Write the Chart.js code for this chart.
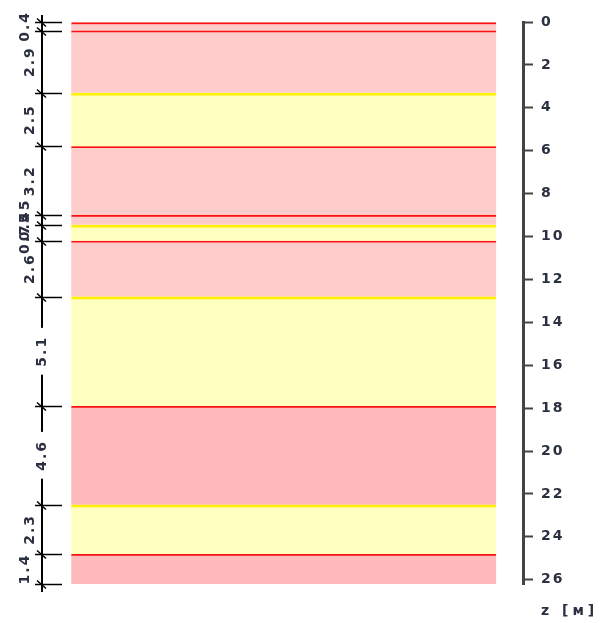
<!DOCTYPE html>
<html><head><meta charset="utf-8">
<script src="https://cdn.jsdelivr.net/npm/chart.js@4.4.0/dist/chart.umd.min.js"></script>
<style>html,body{margin:0;padding:0;background:#fff}#wrap{width:609px;height:623px;position:relative}</style>
</head><body><div id="wrap"><canvas id="c"></canvas></div>
<script>
// ---- data ----
const layerNames = ['Слой 1','Слой 2','Слой 3','Слой 4','Слой 5','Слой 6','Слой 7','Слой 8','Слой 9','Слой 10','Слой 11'];
const soilTypes = ['clay','clay','sand','clay','clay','sand','clay','sand','clay2','sand','clay2'];
const thickness = [0.4, 2.9, 2.5, 3.2, 0.45, 0.75, 2.6, 5.1, 4.6, 2.3, 1.4];
const thicknessLabels = ['0.4','2.9','2.5','3.2','0.45','0.75','2.6','5.1','4.6','2.3','1.4'];
const depthMin = 0;
const depthMax = 26.2;
const depthStep = 2;
const axisTitle = 'z [м]';

// ---- styles ----
const fillColors = {clay: '#ffcccc', sand: '#ffffc0', clay2: '#ffbbbb'};
const lineColors = {clay: '#ff1010', sand: '#fff000', clay2: '#ff1010'};
const textColor = '#2b3040';
const FONT = 'bold 14px "DejaVu Sans"';
const LETTER = '2px';

// cumulative boundaries
const tops = [];
let acc = 0;
thickness.forEach(t => { tops.push(Math.round(acc * 1000) / 1000); acc += t; });
const bottoms = thickness.map((t, i) => Math.round((tops[i] + t) * 1000) / 1000);
const boundaries = [...tops, bottoms[bottoms.length - 1]];

const datasets = layerNames.map((name, i) => ({
  label: name,
  data: [{x: 0.469, y: [tops[i], bottoms[i]]}],
  backgroundColor: fillColors[soilTypes[i]],
  borderColor: lineColors[soilTypes[i]],
  borderWidth: {top: soilTypes[i] === 'sand' ? 3 : 2, right: 0, bottom: 0, left: 0},
  borderSkipped: false,
  barThickness: 425,
  grouped: false
}));

const spacingPlugin = {
  id: 'spacing',
  beforeUpdate(chart) { chart.ctx.letterSpacing = LETTER; },
  beforeDraw(chart) { chart.ctx.letterSpacing = LETTER; }
};

const dimPlugin = {
  id: 'dims',
  afterDraw(chart) {
    const ctx = chart.ctx;
    const y = chart.scales.y;
    const lineX = 42;
    ctx.save();
    ctx.letterSpacing = LETTER;
    ctx.strokeStyle = '#000';
    ctx.lineWidth = 2;
    ctx.beginPath();
    ctx.moveTo(lineX, y.getPixelForValue(boundaries[0]) - 7);
    ctx.lineTo(lineX, y.getPixelForValue(boundaries[boundaries.length - 1]) + 8);
    ctx.stroke();
    boundaries.forEach(b => {
      const py = Math.round(y.getPixelForValue(b)) + 0.5;
      ctx.lineWidth = 1.5;
      ctx.beginPath();
      ctx.moveTo(35, py); ctx.lineTo(62, py);
      ctx.stroke();
      ctx.beginPath();
      ctx.moveTo(lineX - 5, py - 4); ctx.lineTo(lineX + 4, py + 4);
      ctx.stroke();
    });
    ctx.font = FONT;
    ctx.textAlign = 'center';
    ctx.textBaseline = 'middle';
    thicknessLabels.forEach((lab, i) => {
      const p1 = y.getPixelForValue(tops[i]);
      const p2 = y.getPixelForValue(bottoms[i]);
      const h = p2 - p1;
      const cy = (p1 + p2) / 2;
      const w = ctx.measureText(lab).width;
      let cx;
      if (h > 80) {
        cx = lineX;
        ctx.fillStyle = '#fff';
        ctx.fillRect(lineX - 8, cy - w / 2 - 8, 16, w + 16);
      } else if (h >= w + 6) {
        cx = 30;
      } else {
        cx = 25;
      }
      ctx.save();
      ctx.translate(cx, cy);
      ctx.rotate(-Math.PI / 2);
      ctx.fillStyle = textColor;
      ctx.fillText(lab, 0, 0);
      ctx.restore();
    });
    ctx.textAlign = 'left';
    ctx.fillStyle = textColor;
    ctx.letterSpacing = '4px';
    ctx.fillText(axisTitle, 541, 611);
    ctx.restore();
  }
};

new Chart(document.getElementById('c'), {
  type: 'bar',
  data: {datasets},
  options: {
    responsive: true,
    maintainAspectRatio: false,
    animation: false,
    layout: {padding: {left: 70, right: 36, top: 22, bottom: 39}},
    plugins: {legend: {display: false}, tooltip: {enabled: false}},
    scales: {
      x: {type: 'linear', min: 0, max: 1, display: false},
      y: {
        type: 'linear',
        position: 'right',
        reverse: true,
        min: depthMin,
        max: depthMax,
        afterFit(scale) { scale.width = 50; },
        border: {display: true, color: '#444', width: 3},
        grid: {display: true, drawOnChartArea: false, drawTicks: true, tickLength: 10, tickWidth: 2, tickColor: '#444'},
        ticks: {stepSize: depthStep, includeBounds: false, padding: 8, color: textColor,
                font: {family: 'DejaVu Sans', size: 14, weight: 'bold'}}
      }
    }
  },
  plugins: [spacingPlugin, dimPlugin]
});
</script></body></html>
